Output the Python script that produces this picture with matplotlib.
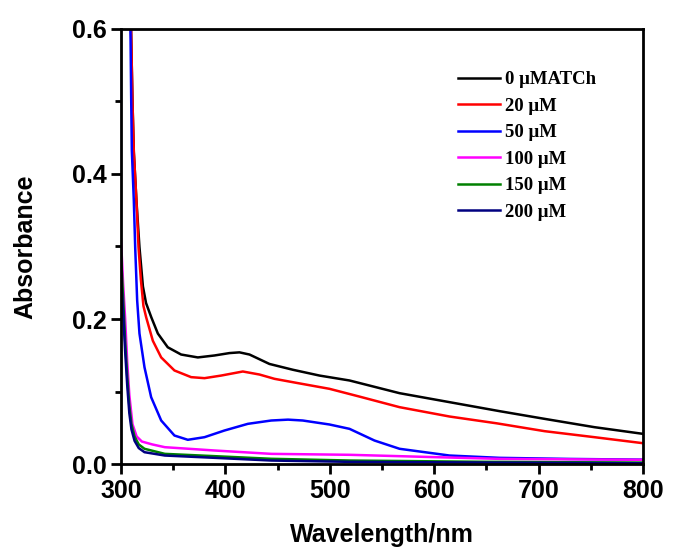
import matplotlib
matplotlib.use("Agg")
import matplotlib.pyplot as plt
from matplotlib.ticker import MultipleLocator

labels = ["0 \u03bcMATCh", "20 \u03bcM", "50 \u03bcM", "100 \u03bcM", "150 \u03bcM", "200 \u03bcM"]
colors = ["black", "red", "blue", "magenta", "green", "#000080"]

wl_0 = [308, 309.5, 311, 312.3, 314.8, 317.7, 321, 324, 329, 335.3, 344.8, 357.6, 373.6, 389.6, 403.9, 413.5,
        423.1, 442.2, 464.6, 490.1, 518.9, 566.8, 614.7, 662.6, 705.7, 753.5, 800]
ab_0 = [0.72, 0.61, 0.50, 0.43, 0.363, 0.299, 0.245, 0.222, 0.2025, 0.18, 0.161, 0.151, 0.147, 0.1497, 0.153,
        0.154, 0.151, 0.138, 0.130, 0.122, 0.1152, 0.0977, 0.0853, 0.0729, 0.0623, 0.0508, 0.0416]

wl_20 = [308, 309.5, 311, 312.3, 314.8, 316.8, 319, 321.5, 324.1, 330.5, 338.5, 351.2, 367.2, 380, 396, 416.7,
         432.7, 447, 467.8, 499.7, 528.4, 566.8, 614.7, 660, 705.7, 753.5, 800]
ab_20 = [0.72, 0.61, 0.50, 0.43, 0.363, 0.299, 0.255, 0.218, 0.2025, 0.170, 0.147, 0.129, 0.1198, 0.1184,
         0.122, 0.1276, 0.1234, 0.1175, 0.112, 0.1037, 0.093, 0.0784, 0.0655, 0.0561, 0.0453, 0.037, 0.0287]

wl_50 = [308, 309, 309.8, 310.4, 312.3, 313.6, 315.5, 317.7, 322.5, 328.9, 338.5, 351.2, 364, 380, 399.1,
         421.5, 443.9, 460, 474.1, 499.7, 518.9, 542.8, 566.8, 614.7, 662.6, 730, 800]
ab_50 = [0.70, 0.61, 0.50, 0.432, 0.363, 0.299, 0.2255, 0.18, 0.1335, 0.0921, 0.060, 0.0393, 0.0334, 0.037,
         0.0462, 0.0554, 0.060, 0.0612, 0.060, 0.0545, 0.0485, 0.0324, 0.021, 0.0117, 0.0085, 0.007, 0.006]

wl_100 = [300, 302, 304, 306, 308, 311, 315, 320, 330, 342, 390, 444, 519, 600, 663, 800]
ab_100 = [0.31, 0.25, 0.20, 0.14, 0.095, 0.055, 0.038, 0.031, 0.027, 0.0232, 0.0186, 0.014, 0.0127, 0.0095,
          0.0071, 0.0058]

wl_150 = [300, 302, 304, 306, 308, 310, 313, 317, 322.5, 342, 390, 444, 519, 650, 800]
ab_150 = [0.29, 0.23, 0.17, 0.12, 0.08, 0.055, 0.038, 0.027, 0.021, 0.014, 0.0108, 0.0072, 0.0048, 0.003, 0.002]

wl_200 = [300, 302, 304, 306, 308, 310, 313, 317, 322.5, 342, 390, 444, 519, 650, 800]
ab_200 = [0.265, 0.21, 0.155, 0.108, 0.070, 0.048, 0.032, 0.022, 0.0163, 0.0117, 0.0085, 0.0048, 0.003, 0.002,
          0.001]

series = [(wl_0, ab_0), (wl_20, ab_20), (wl_50, ab_50), (wl_100, ab_100), (wl_150, ab_150), (wl_200, ab_200)]

fig = plt.figure(figsize=(6.82, 5.52), dpi=100)
ax = fig.add_axes([0.1774, 0.1594, 0.7654, 0.7881])

for (x, y), c, lab in zip(series, colors, labels):
    ax.plot(x, y, color=c, lw=1.8, label=lab, solid_joinstyle="round")

ax.set_xlim(300, 800)
ax.set_ylim(0, 0.6)
ax.xaxis.set_major_locator(MultipleLocator(100))
ax.xaxis.set_minor_locator(MultipleLocator(50))
ax.yaxis.set_major_locator(MultipleLocator(0.2))
ax.yaxis.set_minor_locator(MultipleLocator(0.1))
ax.set_xticks([300, 400, 500, 600, 700, 800])
ax.set_yticks([0.0, 0.2, 0.4, 0.6])
ax.set_yticklabels(["0.0", "0.2", "0.4", "0.6"])

for s in ax.spines.values():
    s.set_linewidth(2)
ax.tick_params(which="major", direction="out", length=7, width=2, labelsize=18, pad=3.5)
ax.tick_params(which="minor", direction="out", length=4, width=2)
ax.tick_params(top=False, right=False, which="both")
for t in ax.get_xticklabels() + ax.get_yticklabels():
    t.set_fontweight("bold")
    t.set_family("Liberation Sans")

ax.set_xlabel("Wavelength/nm", fontsize=18, fontweight="bold", family="Liberation Sans", labelpad=15)
ax.set_ylabel("Absorbance", fontsize=18, fontweight="bold", family="Liberation Sans", labelpad=25)

leg = ax.legend(loc="upper left", bbox_to_anchor=(458 / 682, 1 - 71 / 552), bbox_transform=fig.transFigure,
                frameon=False, borderpad=0, borderaxespad=0,
                prop={"family": "Liberation Serif", "weight": "bold", "size": 13.5},
                handlelength=2.24, handletextpad=0.27, labelspacing=0.5)

fig.savefig("out.png", dpi=100)
